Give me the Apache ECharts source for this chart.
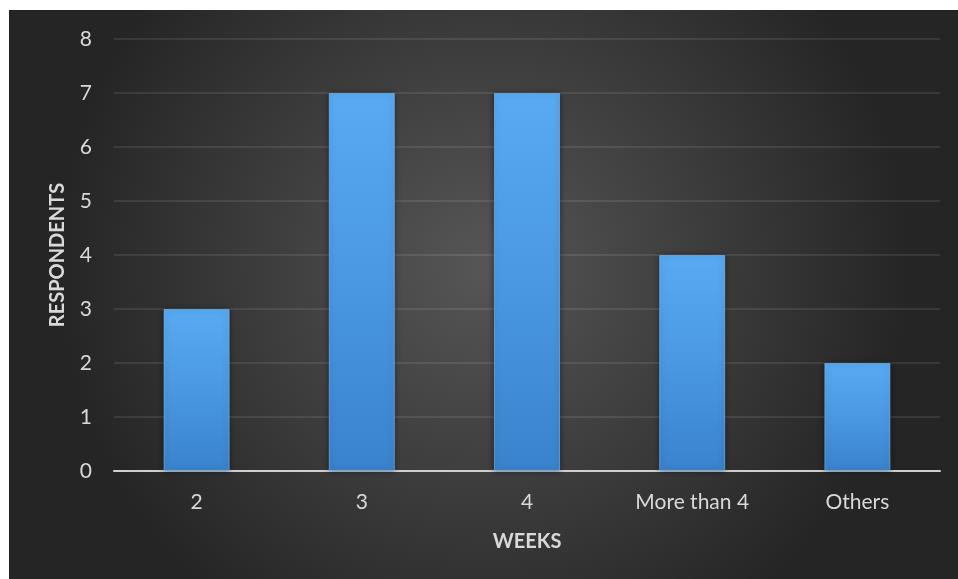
<!DOCTYPE html>
<html>
<head>
<meta charset="utf-8">
<script src="https://cdn.jsdelivr.net/npm/echarts@6/dist/echarts.min.js"></script>
<style>
html,body{margin:0;padding:0;background:#ffffff;width:958px;height:579px;overflow:hidden;}
#chart{position:absolute;left:9px;top:10px;width:949px;height:569px;}
</style>
</head>
<body>
<div id="chart"></div>
<script>
const categories = ["2", "3", "4", "More than 4", "Others"];
const respondents = [3, 7, 7, 4, 2];
const yTicks = { min: 0, max: 8, interval: 1 };
const xName = "WEEKS";
const yName = "RESPONDENTS";

const chart = echarts.init(document.getElementById('chart'), null, { renderer: 'canvas' });
const labelFont = 'Lato, "Open Sans", sans-serif';
chart.setOption({
  backgroundColor: {
    type: 'radial', x: 0.5, y: 0.45, r: 0.75,
    colorStops: [
      { offset: 0, color: '#565656' },
      { offset: 1, color: '#252525' }
    ]
  },
  animation: false,
  grid: { left: 105, top: 29, right: 18, bottom: 108, containLabel: false },
  xAxis: {
    type: 'category',
    data: categories,
    name: xName,
    nameLocation: 'middle',
    nameGap: 61,
    nameTextStyle: { color: '#d9d9d9', fontSize: 20, fontWeight: 'bold', fontFamily: labelFont },
    axisLine: { show: true, lineStyle: { color: '#cfcfcf', width: 2 } },
    axisTick: { show: false },
    axisLabel: { color: '#d9d9d9', fontSize: 21, fontFamily: labelFont, margin: 21 },
    splitLine: { show: false }
  },
  yAxis: {
    type: 'value',
    min: yTicks.min, max: yTicks.max, interval: yTicks.interval,
    name: yName,
    nameLocation: 'middle',
    nameGap: 46,
    nameTextStyle: { color: '#d9d9d9', fontSize: 20, fontWeight: 'bold', fontFamily: labelFont },
    axisLine: { show: false },
    axisTick: { show: false },
    axisLabel: { color: '#d9d9d9', fontSize: 21, fontFamily: labelFont, margin: 22 },
    splitLine: { show: true, lineStyle: { color: 'rgba(255,255,255,0.12)', width: 1.5 } }
  },
  series: [{
    type: 'bar',
    data: respondents,
    barWidth: '40%',
    itemStyle: {
      color: {
        type: 'linear', x: 0, y: 0, x2: 0, y2: 1,
        colorStops: [
          { offset: 0, color: '#58aaf2' },
          { offset: 0.5, color: '#4a98e2' },
          { offset: 1, color: '#3a82cc' }
        ]
      },
      borderColor: 'rgba(130,200,255,0.55)',
      borderWidth: 1,
      shadowColor: 'rgba(0,0,0,0.45)',
      shadowBlur: 6
    }
  }]
});
</script>
</body>
</html>
